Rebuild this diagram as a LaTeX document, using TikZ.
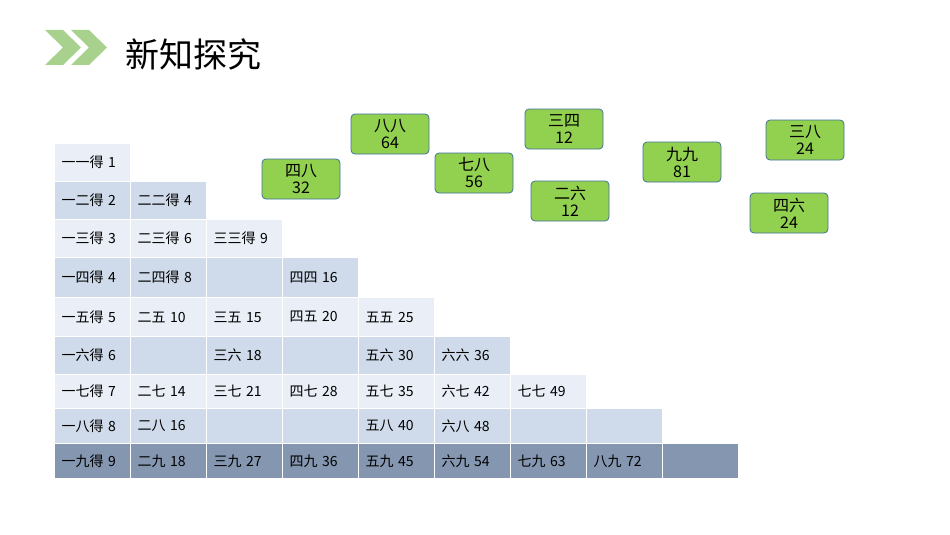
\documentclass[tikz,border=0pt]{standalone}
\usepackage{fontspec}
\setmainfont{Liberation Sans}
\newfontfamily\cjk{Noto Sans CJK SC}
\usepackage{tikz}
\usetikzlibrary{positioning,calc}
\definecolor{rowlight}{HTML}{E9EEF7}
\definecolor{rowmid}{HTML}{CFDBEA}
\definecolor{rowdark}{HTML}{8596B0}
\definecolor{cardgreen}{HTML}{92D050}
\definecolor{cardline}{HTML}{41719C}
\definecolor{chevgreen}{HTML}{A9D18E}
\tikzset{
  cell/.style={rectangle, draw=white, line width=1pt, minimum width=76pt, anchor=north west,
    inner xsep=7pt, text width=62pt, align=left, font=\cjk\fontsize{14}{14}\selectfont},
  card/.style={rectangle, rounded corners=4pt, draw=cardline, line width=0.8pt, fill=cardgreen,
    minimum width=78pt, minimum height=40pt, inner sep=1pt, align=center,
    font=\cjk\fontsize{16}{17}\selectfont}
}
\begin{document}
\begin{tikzpicture}[x=1pt,y=-1pt]
  \useasboundingbox (0,0) rectangle (950,535);
  % title
  \fill[chevgreen] (45,30) -- (63,30) -- (81,47.5) -- (63,65) -- (45,65) -- (63,47.5) -- cycle;
  \fill[chevgreen] (71,30) -- (89,30) -- (107,47.5) -- (89,65) -- (71,65) -- (89,47.5) -- cycle;
  \node[anchor=west, font=\cjk\fontsize{34}{34}\selectfont] (title) at (122,54) {新知探究};

  % table rows
  \foreach \r/\top/\h/\col/\items in {
      1/143/38/rowlight/{一一得 1},
      2/181/38/rowmid/{一二得 2,二二得 4},
      3/219/38/rowlight/{一三得 3,二三得 6,三三得 9},
      4/257/40/rowmid/{一四得 4,二四得 8,{},四四 16},
      5/297/39/rowlight/{一五得 5,二五 10,三五 15,四五 20,五五 25},
      6/336/38/rowmid/{一六得 6,{},三六 18,{},五六 30,六六 36},
      7/374/34/rowlight/{一七得 7,二七 14,三七 21,四七 28,五七 35,六七 42,七七 49},
      8/408/35/rowmid/{一八得 8,二八 16,{},{},五八 40,六八 48,{},{}},
      9/443/35/rowdark/{一九得 9,二九 18,三九 27,四九 36,五九 45,六九 54,七九 63,八九 72,{}}}
    \foreach \t [count=\c] in \items
      \node[cell, fill=\col, minimum height=\h pt] (c\r-\c) at ({54+76*(\c-1)},\top) {\t};

  % cards
  \node[card] (k48) at (301,179) {四八\\32};
  \node[card] (k88) at (390,134) {八八\\64};
  \node[card] (k78) at (474,173) {七八\\56};
  \node[card] (k34) at (564,129) {三四\\12};
  \node[card] (k26) at (570,201) {二六\\12};
  \node[card] (k99) at (682,162) {九九\\81};
  \node[card] (k38) at (805,140) {三八\\24};
  \node[card] (k46) at (789,213) {四六\\24};
\end{tikzpicture}
\end{document}
